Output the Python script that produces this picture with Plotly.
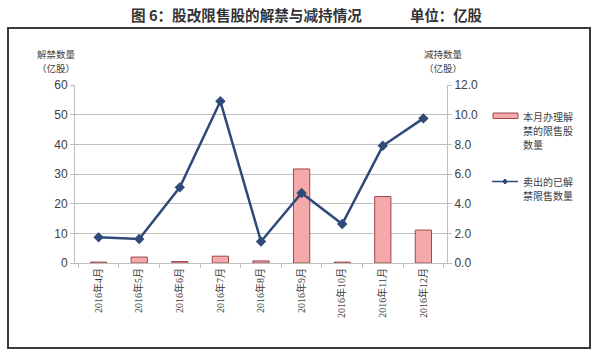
import plotly.graph_objects as go

months = ["2016年4月", "2016年5月", "2016年6月", "2016年7月", "2016年8月",
          "2016年9月", "2016年10月", "2016年11月", "2016年12月"]
unlocked = [0.3, 2.0, 0.5, 2.3, 0.7, 31.7, 0.3, 22.4, 11.1]
sold = [1.73, 1.62, 5.1, 10.9, 1.45, 4.72, 2.63, 7.9, 9.75]

left_ticks = [0, 10, 20, 30, 40, 50, 60]
right_ticks = [0, 2, 4, 6, 8, 10, 12]

bar_name = ["本月办理解", "禁的限售股", "数量"]
line_name = ["卖出的已解", "禁限售数量"]

CJK = "Noto Sans CJK SC"
BAR_FILL, BAR_EDGE, LINE_C = "#F5A9AB", "#9A4A4A", "#2E4A78"

# plot area in pixels: x 75..447, y 85..263
L, R, T, B = 75, 447, 85, 263
def px(x):
    return (x - L) / (R - L)
def py(y):
    return (B - y) / (B - T)

fig = go.Figure()
fig.add_trace(go.Bar(
    x=months, y=unlocked, name="".join(bar_name),
    marker=dict(color=BAR_FILL, line=dict(color=BAR_EDGE, width=1)),
    width=0.4, yaxis="y"))
fig.add_trace(go.Scatter(
    x=months, y=sold, name="".join(line_name), mode="lines+markers",
    line=dict(color=LINE_C, width=2.5),
    marker=dict(symbol="diamond", size=8, color=LINE_C), yaxis="y2"))

fig.update_layout(
    width=600, height=354,
    margin=dict(l=L, r=600 - R, t=T, b=354 - B),
    paper_bgcolor="white", plot_bgcolor="white",
    font=dict(family="Liberation Sans, " + CJK, size=11, color="#404040"),
    showlegend=False,
    xaxis=dict(type="category", tickangle=-90, showgrid=False,
               showline=True, linecolor="#BFBFBF", linewidth=1,
               ticks="outside", tickson="boundaries", ticklen=4, tickcolor="#BFBFBF",
               tickfont=dict(family="Liberation Serif, " + CJK, size=10, color="#404040")),
    yaxis=dict(range=[0, 60], tickvals=left_ticks, showgrid=True, gridcolor="#BFBFBF",
               gridwidth=1, showline=True, linecolor="#BFBFBF", ticks="outside",
               ticklen=4, tickcolor="#BFBFBF", zeroline=False,
               tickfont=dict(size=12, color="#404040")),
    yaxis2=dict(range=[0, 12], tickvals=right_ticks, tickformat=".1f", overlaying="y",
                side="right", showgrid=False, showline=True, linecolor="#BFBFBF",
                ticks="outside", ticklen=4, tickcolor="#BFBFBF", zeroline=False,
                tickfont=dict(size=12, color="#404040")),
)

# outer frame
fig.add_shape(type="rect", xref="paper", yref="paper",
              x0=px(8), x1=px(590), y0=py(348), y1=py(28),
              line=dict(color="#3A3A3A", width=2), fillcolor="rgba(0,0,0,0)", layer="below")

def text(s, x, y, size, anchor="left", bold=False, color="#404040"):
    fig.add_annotation(text=f"<b>{s}</b>" if bold else s, xref="paper", yref="paper",
                       x=px(x), y=py(y), showarrow=False, xanchor=anchor, yanchor="middle",
                       font=dict(family=CJK, size=size, color=color))

text("图 6：股改限售股的解禁与减持情况", 129, 15, 14.6, bold=True, color="#333333")
text("单位：亿股", 408, 15, 14.4, bold=True, color="#333333")

text("解禁数量", 56, 54, 9.5, anchor="center")
text("（亿股）", 56, 67.5, 9.5, anchor="center")
text("减持数量", 443, 54, 9.5, anchor="center")
text("（亿股）", 443, 67.5, 9.5, anchor="center")

# legend
fig.add_shape(type="rect", xref="paper", yref="paper",
              x0=px(493), x1=px(518), y0=py(118.5), y1=py(113),
              line=dict(color=BAR_EDGE, width=1), fillcolor=BAR_FILL)
for i, s in enumerate(bar_name):
    text(s, 521, 116 + 14 * i, 10)
fig.add_shape(type="line", xref="paper", yref="paper",
              x0=px(492), x1=px(518), y0=py(181.5), y1=py(181.5),
              line=dict(color=LINE_C, width=1.5))
d = 2.5
fig.add_shape(type="path", xref="paper", yref="paper",
              path=(f"M {px(505 - d)} {py(181.5)} L {px(505)} {py(181.5 - d)} "
                    f"L {px(505 + d)} {py(181.5)} L {px(505)} {py(181.5 + d)} Z"),
              line=dict(color=LINE_C, width=1), fillcolor=LINE_C)
for i, s in enumerate(line_name):
    text(s, 521, 181.5 + 14 * i, 10)

fig.write_html("out.html")
